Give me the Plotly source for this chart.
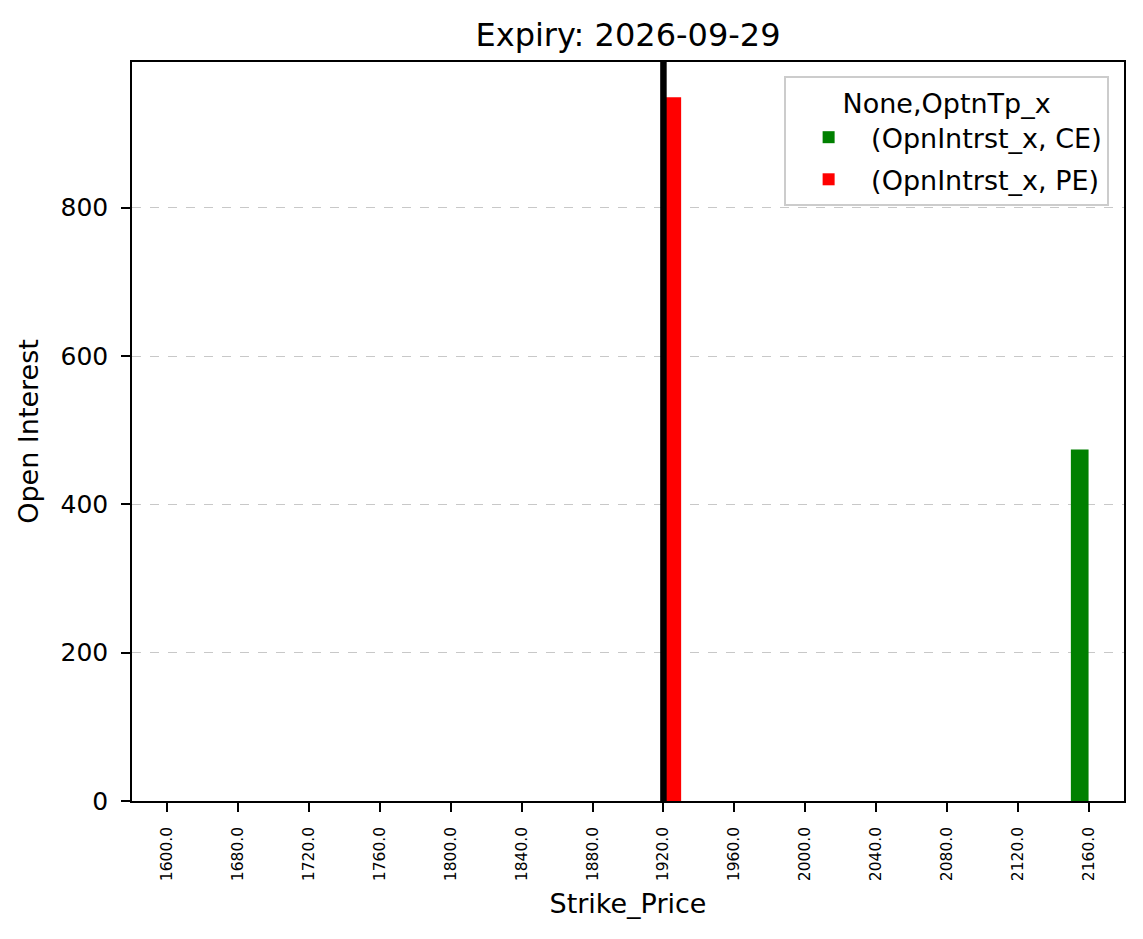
import plotly.graph_objects as go

strikes = [1600.0, 1680.0, 1720.0, 1760.0, 1800.0, 1840.0, 1880.0,
           1920.0, 1960.0, 2000.0, 2040.0, 2080.0, 2120.0, 2160.0]
ce_oi = [0, 0, 0, 0, 0, 0, 0, 0, 0, 0, 0, 0, 0, 474]
pe_oi = [0, 0, 0, 0, 0, 0, 0, 949, 0, 0, 0, 0, 0, 0]
atm_strike = 1920.0
title_text = "Expiry: 2026-09-29"

cats = [f"{s:.1f}" for s in strikes]
FONT = "DejaVu Sans"

fig = go.Figure()
fig.add_trace(go.Bar(x=cats, y=ce_oi, name="(OpnIntrst_x, CE)", legendgroup="ce",
                     marker=dict(color="green", line=dict(width=0))))
fig.add_trace(go.Bar(x=cats, y=pe_oi, name="(OpnIntrst_x, PE)", legendgroup="pe",
                     marker=dict(color="red", line=dict(width=0))))

atm_idx = strikes.index(atm_strike)
fig.add_shape(type="line", xref="x", yref="paper",
              x0=atm_idx, x1=atm_idx, y0=0, y1=1,
              line=dict(color="black", width=6.5), layer="above")

ymax = max(max(ce_oi), max(pe_oi)) * 1.05

fig.update_layout(
    width=1143, height=939,
    margin=dict(l=132, r=19, t=62, b=138),
    paper_bgcolor="white", plot_bgcolor="white",
    font=dict(family=FONT, size=25, color="black"),
    barmode="group", bargap=0.5, bargroupgap=0,
    title=dict(text=title_text, x=(132 + 1124) / 2 / 1143, xanchor="center",
               y=1 - 35 / 939, yanchor="middle",
               font=dict(family=FONT, size=32, color="black")),
    xaxis=dict(type="category", categoryorder="array", categoryarray=cats,
               range=[-0.5, len(cats) - 0.5],
               showline=True, linecolor="black", linewidth=1.5, mirror=True,
               ticks="outside", ticklen=9, tickwidth=1.5, tickcolor="black",
               tickangle=-90, tickfont=dict(size=15.5, family=FONT),
               ticklabelstandoff=9,
               showgrid=False,
               title=dict(text="Strike_Price", font=dict(size=27), standoff=14)),
    yaxis=dict(range=[0, ymax], tickvals=[0, 200, 400, 600, 800],
               showline=True, linecolor="black", linewidth=1.5, mirror=True,
               ticks="outside", ticklen=9, tickwidth=1.5, tickcolor="black",
               tickfont=dict(size=25, family=FONT),
               ticklabelstandoff=8,
               showgrid=True, gridcolor="#c8c8c8", griddash="dash", gridwidth=1.3,
               zeroline=False,
               title=dict(text="Open Interest", font=dict(size=27), standoff=14)),
    legend=dict(x=0.985, y=0.981, xanchor="right", yanchor="top",
                bgcolor="rgba(255,255,255,0.9)", bordercolor="#cccccc", borderwidth=2,
                font=dict(size=27, family=FONT),
                title=dict(text="None,OptnTp_x", side="top center",
                           font=dict(size=27, family=FONT)),
                itemwidth=75, tracegroupgap=4),
)

fig.write_html("out.html")
